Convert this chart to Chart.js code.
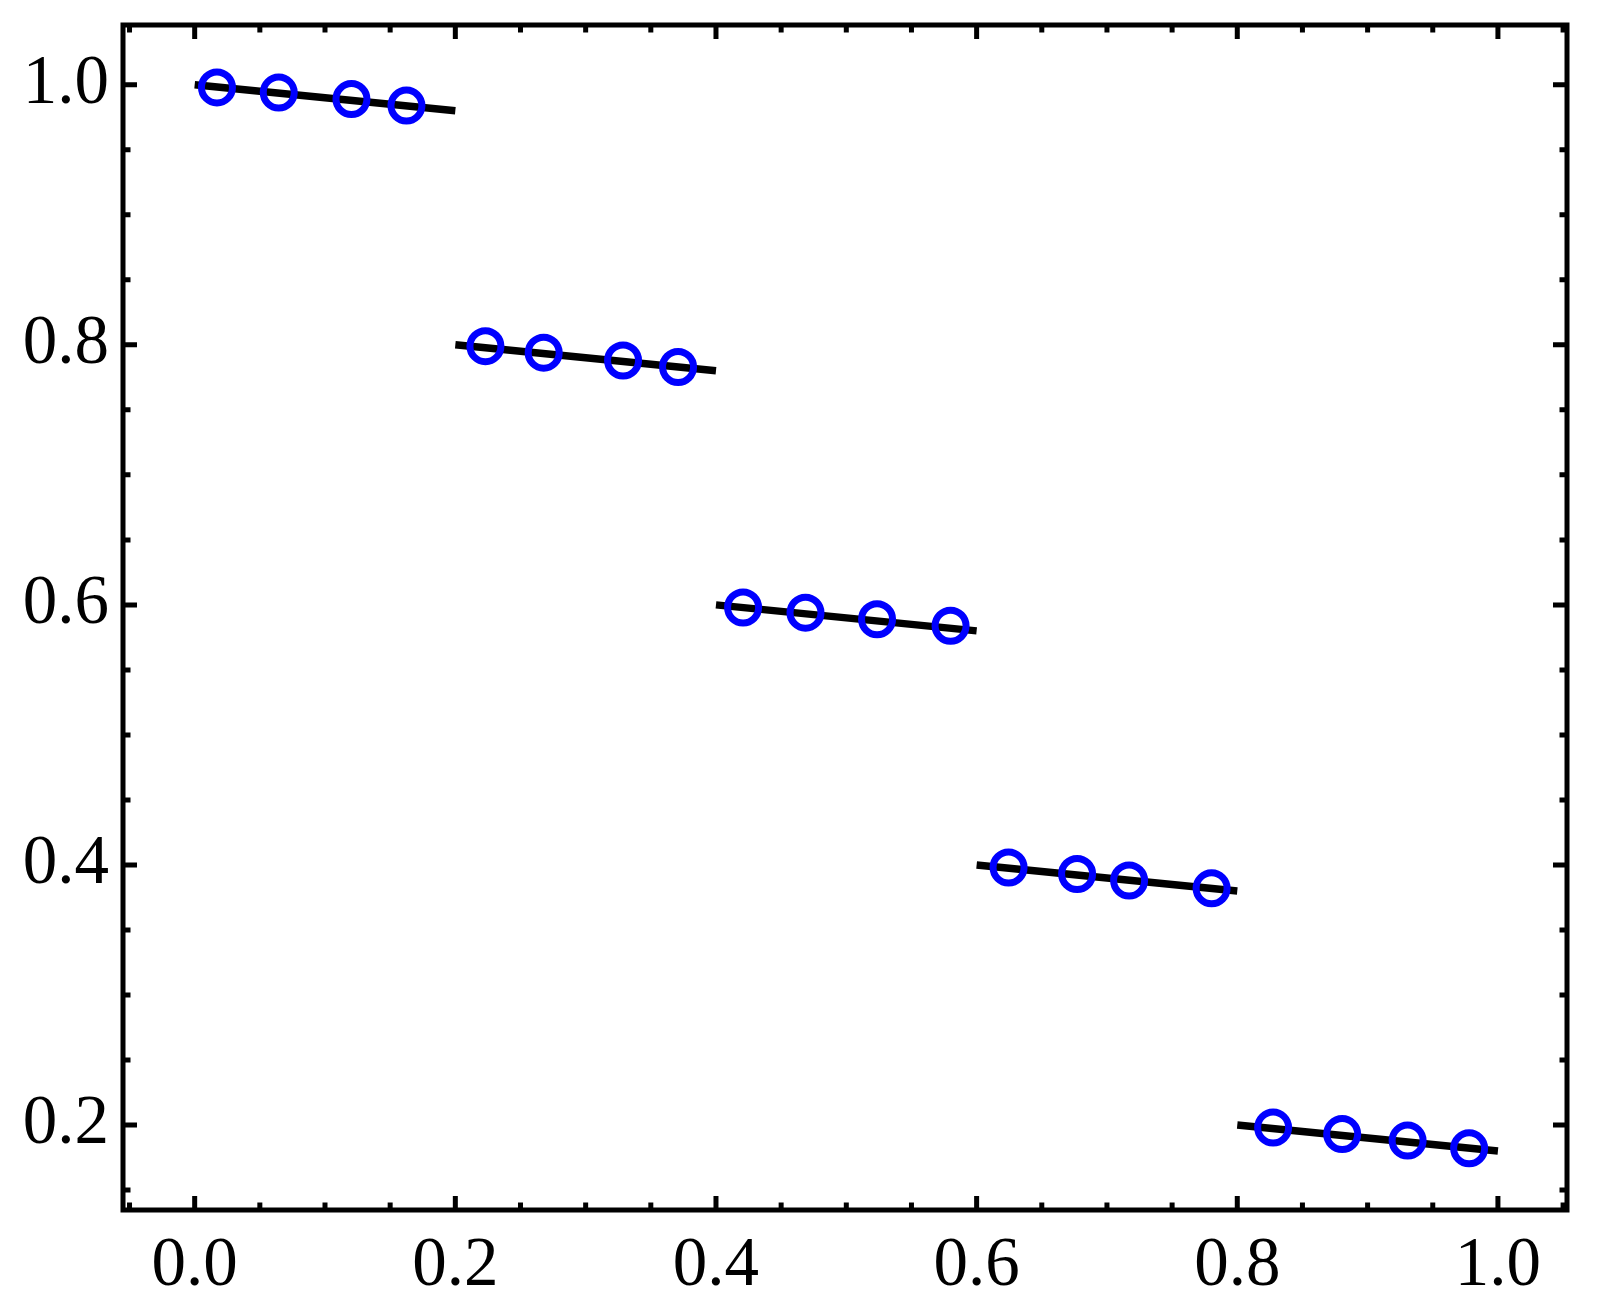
<!DOCTYPE html>
<html>
<head>
<meta charset="utf-8">
<script src="https://cdn.jsdelivr.net/npm/chart.js@4"></script>
<style>
  html, body { margin: 0; padding: 0; background: #fff; }
  #wrap { width: 1601px; height: 1312px; }
</style>
</head>
<body>
<div id="wrap"><canvas id="grafico"></canvas></div>
<script>
// pontos medidos (circulos azuis)
const pontosX = [0.0171, 0.0645, 0.1203, 0.1625,
                 0.2231, 0.2678, 0.3287, 0.3709,
                 0.4208, 0.4687, 0.5236, 0.5800,
                 0.6245, 0.6771, 0.7170, 0.7803,
                 0.8275, 0.8805, 0.9307, 0.9779];
const pontosY = [0.998, 0.994, 0.989, 0.984,
                 0.799, 0.794, 0.788, 0.783,
                 0.598, 0.594, 0.589, 0.584,
                 0.398, 0.393, 0.388, 0.382,
                 0.198, 0.193, 0.188, 0.182];

// segmentos de reta (pretos)
const retaInicioX = [0.0, 0.2, 0.4, 0.6, 0.8];
const retaFimX    = [0.2, 0.4, 0.6, 0.8, 1.0];
const retaInicioY = [1.0, 0.8, 0.6, 0.4, 0.2];
const retaFimY    = [0.98, 0.78, 0.58, 0.38, 0.18];

// rotulos dos eixos
const ticksX = [0.0, 0.2, 0.4, 0.6, 0.8, 1.0];
const ticksY = [0.2, 0.4, 0.6, 0.8, 1.0];

document.addEventListener("DOMContentLoaded", () => {
  Chart.defaults.font.family = "'Liberation Serif', 'Times New Roman', serif";
  Chart.defaults.font.size = 69;
  Chart.defaults.color = '#000';

  const pontos = pontosX.map((x, i) => ({ x: x, y: pontosY[i] }));

  const datasets = [{
    data: pontos,
    showLine: false,
    pointStyle: 'circle',
    pointRadius: 15.5,
    pointBorderWidth: 7,
    pointBorderColor: 'rgb(0,0,255)',
    pointBackgroundColor: 'rgba(0,0,0,0)',
    order: 0
  }];

  retaInicioX.forEach((x0, i) => {
    datasets.push({
      data: [{ x: x0, y: retaInicioY[i] }, { x: retaFimX[i], y: retaFimY[i] }],
      showLine: true,
      borderColor: '#000',
      borderWidth: 7.5,
      pointRadius: 0,
      borderCapStyle: 'butt',
      order: 1
    });
  });

  // moldura e marcas de escala para dentro, nos quatro lados
  const moldura = {
    id: 'moldura',
    afterDraw(chart) {
      const { ctx, chartArea: a, scales } = chart;
      const sx = scales.x, sy = scales.y;
      ctx.save();
      ctx.strokeStyle = '#000';
      ctx.lineWidth = 5;
      ctx.beginPath();
      for (let k = -1; k <= 21; k++) {
        const v = k * 0.05;
        if (v < sx.min || v > sx.max) continue;
        const px = sx.getPixelForValue(v);
        const len = (k % 4 === 0) ? 14 : 7.5;
        ctx.moveTo(px, a.bottom); ctx.lineTo(px, a.bottom - len);
        ctx.moveTo(px, a.top); ctx.lineTo(px, a.top + len);
      }
      for (let k = 2; k <= 21; k++) {
        const v = k * 0.05;
        if (v < sy.min || v > sy.max) continue;
        const py = sy.getPixelForValue(v);
        const len = (k % 4 === 0) ? 14 : 7.5;
        ctx.moveTo(a.left, py); ctx.lineTo(a.left + len, py);
        ctx.moveTo(a.right, py); ctx.lineTo(a.right - len, py);
      }
      ctx.stroke();
      ctx.strokeRect(a.left, a.top, a.right - a.left, a.bottom - a.top);
      ctx.restore();
    }
  };

  new Chart(document.getElementById('grafico'), {
    type: 'scatter',
    data: { datasets: datasets },
    options: {
      responsive: true,
      maintainAspectRatio: false,
      animation: false,
      layout: { padding: { top: 25, right: 34, left: 0, bottom: 0 } },
      plugins: { legend: { display: false }, tooltip: { enabled: false } },
      scales: {
        x: {
          type: 'linear',
          min: -0.055,
          max: 1.053,
          grid: { display: false, drawTicks: false },
          border: { display: false },
          afterBuildTicks: (s) => { s.ticks = ticksX.map(v => ({ value: v })); },
          afterFit: (s) => { s.height = 102; s.paddingLeft = 0; s.paddingRight = 0; },
          ticks: {
            padding: 15,
            maxRotation: 0,
            autoSkip: false,
            callback: (v) => Number(v).toFixed(1)
          }
        },
        y: {
          type: 'linear',
          min: 0.1346,
          max: 1.046,
          grid: { display: false, drawTicks: false },
          border: { display: false },
          afterBuildTicks: (s) => { s.ticks = ticksY.map(v => ({ value: v })); },
          afterFit: (s) => { s.width = 123; s.paddingTop = 0; s.paddingBottom = 0; },
          ticks: {
            padding: 14,
            autoSkip: false,
            callback: (v) => Number(v).toFixed(1)
          }
        }
      }
    },
    plugins: [moldura]
  });
});
</script>
</body>
</html>
